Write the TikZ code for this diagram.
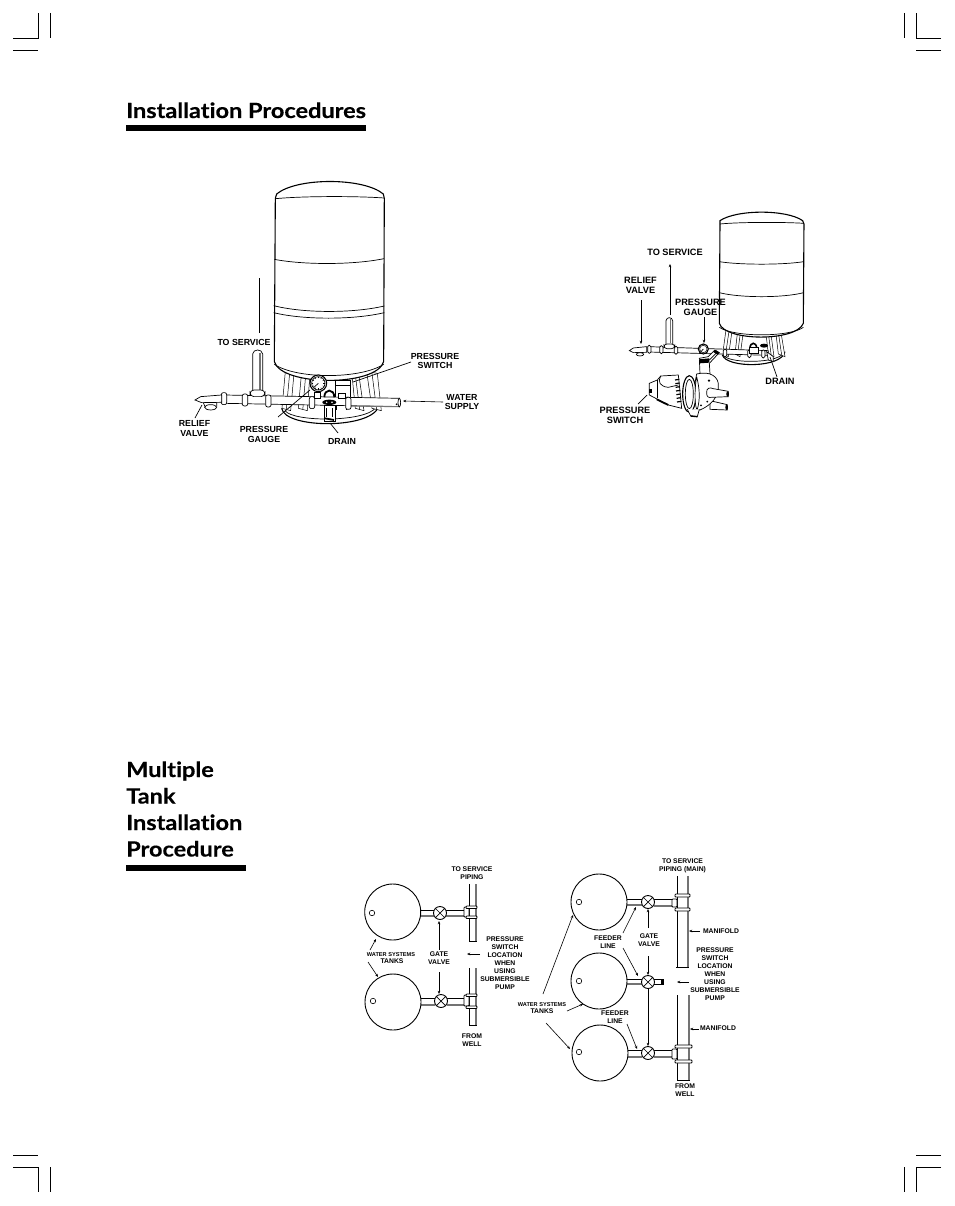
\documentclass[tikz,border=0pt]{standalone}
\usepackage{fontspec}
\setmainfont{Liberation Sans}
\newfontfamily\headfont[Ligatures=NoCommon,FakeStretch=1.12,BoldFeatures={FakeBold=0.35,FakeStretch=1.12}]{Lato}
\usetikzlibrary{arrows.meta}
\tikzset{
  crop/.style={line width=0.8pt,black},
  headbar/.style={fill=black,draw=none},
  headtext/.style={anchor=base west,inner sep=0pt,font=\headfont\bfseries\fontsize{21}{21}\selectfont},
  lblA/.style={inner sep=0pt,align=center,font=\bfseries\fontsize{8.8}{9.6}\selectfont},
  lblB/.style={inner sep=0pt,align=center,font=\bfseries\fontsize{6.8}{8}\selectfont},
  lblC/.style={inner sep=0pt,align=center,font=\bfseries\fontsize{5.6}{7}\selectfont},
  lblD/.style={inner sep=0pt,align=center,font=\bfseries\fontsize{9.2}{9.8}\selectfont},
  lead/.style={line width=0.6pt,-{Stealth[length=3.2pt,width=2.6pt]}},
  plain/.style={line width=0.7pt,black},
  thin2/.style={line width=0.5pt,black},
  heavy/.style={line width=1.1pt,black},
  tankc/.style={circle,draw,line width=0.9pt,minimum size=56pt,inner sep=0pt,fill=white},
  dot/.style={circle,draw,line width=0.6pt,minimum size=5.5pt,inner sep=0pt,fill=white},
  valve/.style={circle,draw,line width=0.9pt,minimum size=13pt,inner sep=0pt,fill=white},
  band/.style={draw,line width=0.8pt,fill=white,rounded corners=0.8pt},
  shade/.style={line width=1.1pt,black!55},
}
\newcommand{\gatevalve}[2]{\node[valve] (#1) at (#2) {};\draw[plain] (#1.45)--(#1.225) (#1.135)--(#1.315);}
\newcommand{\hpipe}[4]{\draw[plain] (#1,#3)--(#2,#3);\draw[shade] (#1,#4)--(#2,#4);}
\newcommand{\manifold}[4]{\draw[plain,fill=white] (#1,#3)--(#1,#4)--(#2,#4)--(#2,#3);\draw[shade] (#2,#3)--(#2,#4);}
\begin{document}
\begin{tikzpicture}[x=1pt,y=-1pt]
\useasboundingbox (0,0) rectangle (954,1206);
\fill[white] (0,0) rectangle (954,1206);
% crop marks
\draw[crop] (13,38)--(38,38)--(38,13) (50,13)--(50,38) (13,50)--(38,50);
\draw[crop] (941,38)--(916,38)--(916,13) (904,13)--(904,38) (941,50)--(916,50);
\draw[crop] (13,1167)--(38,1167)--(38,1192) (50,1167)--(50,1192) (13,1155)--(38,1155);
\draw[crop] (941,1167)--(916,1167)--(916,1192) (904,1167)--(904,1192) (941,1155)--(916,1155);
% headings
\node[headtext] (h1) at (126,118) {Installation Procedures};
\fill[headbar] (126,125) rectangle (366,131);
\node[headtext] (h2) at (126,777) {Multiple};
\node[headtext] (h3) at (126,803.5) {Tank};
\node[headtext] (h4) at (126,830) {Installation};
\node[headtext] (h5) at (126,856.5) {Procedure};
\fill[headbar] (126,865) rectangle (246,871);

%% ===== large tank (coordinates of a 3x crop at 170,170)
\begin{scope}[xshift=170pt,yshift=-170pt,x=0.3333pt,y=-0.3333pt]
  % base
  \draw[heavy,fill=white] (335,715) .. controls (345,778) and (615,778) .. (627,705);
  \draw[plain] (345,722) .. controls (370,757) and (590,757) .. (618,712);
  % legs
  \foreach \a/\b/\c/\d in {346/336/372/362, 395/385/420/412, 545/556/566/582, 590/606/622/634}{
    \draw[thin2,fill=white] (\a,605)--(\b,715)--(\d,722)--(\c,610)--cycle;
    \draw[thin2] ({(\a+\c)/2},610)--({(\b+\d)/2},718);
  }
  \draw[thin2] (500,640)--(500,720) (530,640)--(530,720);
  % tank
  \draw[heavy,fill=white] (320,72) .. controls (380,22) and (580,22) .. (640,72)
     -- (643,85) -- (641,575) .. controls (620,650) and (335,650) .. (313,575) -- (316,85) -- cycle;
  \draw[plain] (317,86) .. controls (400,78) and (560,78) .. (642,84);
  \draw[plain] (313,268) .. controls (400,285) and (550,285) .. (642,266);
  \draw[plain] (311,407) .. controls (400,430) and (550,430) .. (643,408);
  \draw[plain] (311,428) .. controls (400,450) and (550,450) .. (643,428);
  \draw[plain] (313,583) .. controls (380,628) and (570,628) .. (641,583);
  % riser
  \draw[plain,fill=white] (248,665)--(248,552) .. controls (250,536) and (276,536) .. (278,552) -- (278,665);
  \draw[shade] (270,548)--(270,660);
  % switch box
  \draw[plain,fill=white] (495,630) rectangle (540,682);
  \draw[plain] (495,645)--(540,645);
  % pipe
  \draw[plain,fill=white] (160,675)--(688,685)--(686,710)--(160,700)--cycle;
  \draw[shade] (540,708)--(686,710);
  \draw[plain,fill=white] (688,698) ellipse (4 and 13);
  \fill[black] (680,703) circle (3);
  % couplings
  \foreach \x/\y in {162/686, 225/690, 295/693, 426/698, 535/700}{
    \draw[plain,fill=white,rounded corners=2pt] (\x-8,\y-18) rectangle (\x+8,\y+18);
  }
  \draw[plain,fill=white,rounded corners=4pt] (240,660) rectangle (285,680);
  % relief valve
  \draw[plain,fill=white] (75,690) -- (92,680) -- (155,675) -- (155,697) -- (95,698) -- cycle;
  \draw[plain,fill=white] (122,712) ellipse (18 and 8);
  \draw[plain] (100,698) -- (105,710) (140,697)--(140,710);
  % gauge
  \draw[heavy,fill=white] (445,640) circle (25);
  \draw[plain] (445,640) circle (20);
  \draw[plain] (445,640)--(432,652);
  \foreach \an in {0,30,...,330}{\draw[thin2] (445,640) ++(\an:15) -- ++(\an:4);}
  % fittings and drain
  \draw[line width=1.8pt] (463,682) .. controls (463,655) and (493,655) .. (493,682);
  \draw[plain,fill=white] (432,668) rectangle (450,684);
  \draw[plain,fill=white] (505,670) rectangle (525,686);
  \draw[plain,fill=white] (462,705) -- (462,755) -- (495,755) -- (495,705) -- cycle;
  \fill[black] (478,697) ellipse (21 and 8);
  \fill[white] (470,697) circle (2.5) (486,697) circle (2.5);
  \draw[line width=1.8pt] (464,745) -- (492,750);
  \draw[plain] (470,715)--(470,740) (487,715)--(487,740);
\end{scope}
\node[lblA] (ts1) at (244,342) {TO SERVICE};
\node[lblA] (ps1) at (435,361) {PRESSURE\\SWITCH};
\node[lblA] (ws1) at (462,402) {WATER\\SUPPLY};
\node[lblA] (rv1) at (194.5,428.5) {RELIEF\\VALVE};
\node[lblA] (pg1) at (264,434.5) {PRESSURE\\GAUGE};
\node[lblA] (dr1) at (342,441.5) {DRAIN};
\coordinate (a1s) at (259,333); \coordinate (a1e) at (259,278);
\coordinate (a2s) at (411,362); \coordinate (a2e) at (353,382);
\coordinate (a3s) at (443,402); \coordinate (a3e) at (403,401);
\coordinate (a4s) at (195,418); \coordinate (a4e) at (202,405);
\coordinate (a5s) at (278,417); \coordinate (a5e) at (310,390);
\coordinate (a6s) at (338,433); \coordinate (a6e) at (330,423);
\draw[plain] (a1s)--(a1e);
\draw[plain] (a2s)--(a2e);
\draw[lead] (a3s)--(a3e);
\draw[plain] (a4s)--(a4e);
\draw[plain] (a5s)--(a5e);
\draw[plain] (a6s)--(a6e);

%% ===== small tank (3x crop at 590,200)
\begin{scope}[xshift=590pt,yshift=-200pt,x=0.3333pt,y=-0.3333pt]
  % base
  \draw[heavy,fill=white] (397,465) .. controls (410,505) and (575,505) .. (585,455);
  \draw[plain] (405,470) .. controls (430,490) and (555,490) .. (578,462);
  \foreach \a/\b/\c/\d in {410/398/428/415, 445/435/462/450, 525/535/540/552, 555/565/570/585}{
    \draw[thin2,fill=white] (\a,375)--(\b,462)--(\d,470)--(\c,380)--cycle;
    \draw[thin2] ({(\a+\c)/2},380)--({(\b+\d)/2},465);
  }
  % tank
  \draw[heavy,fill=white] (390,62) .. controls (440,28) and (590,28) .. (638,62)
    -- (642,72) -- (640,370) .. controls (620,425) and (405,425) .. (388,370) -- (390,72) -- cycle;
  \draw[plain] (390,72) .. controls (450,66) and (580,66) .. (642,70);
  \draw[plain] (388,185) .. controls (450,195) and (580,195) .. (641,185);
  \draw[plain] (388,278) .. controls (450,294) and (580,294) .. (641,278);
  \draw[plain] (388,382) .. controls (430,412) and (600,412) .. (640,382);
  % riser
  \draw[plain,fill=white] (228,432)--(228,362) .. controls (230,350) and (246,350) .. (248,362) -- (248,432);
  \draw[shade] (242,358)--(242,430);
  % pipe
  \draw[plain,fill=white] (175,440)--(535,452)--(535,466)--(175,456)--cycle;
  \foreach \x/\y in {178/448, 214/449, 258/451, 405/459, 478/461, 520/462}{
    \draw[plain,fill=white,rounded corners=1.5pt] (\x-5,\y-12) rectangle (\x+5,\y+12);
  }
  \draw[plain,fill=white,rounded corners=3pt] (222,432) rectangle (254,446);
  % relief
  \draw[plain,fill=white] (118,452)--(130,444)--(170,440)--(170,457)--(130,458)--cycle;
  \draw[plain,fill=white] (150,463) ellipse (11 and 5);
  % gauge
  \draw[heavy,fill=white] (340,447) circle (15);
  \draw[thin2] (340,447) circle (11);
  \draw[plain] (340,447)--(333,455);
  % fittings
  \draw[line width=1.6pt] (480,445) .. controls (480,425) and (500,425) .. (500,445);
  \draw[plain,fill=white] (478,442) rectangle (505,460);
  \fill[black] (522,437) ellipse (12 and 6);
  \draw[plain,fill=white] (530,455)--(550,470)--(550,485)--(535,480)--cycle;
  % connection to pump
  \draw[plain,fill=white] (328,475)--(330,522)--(360,522)--(358,490)--(388,458)--(375,450)--(355,470)--cycle;
  \fill[black] (328,478) -- (358,475) -- (358,488) -- (330,490) -- cycle;
  \draw[plain] (358,480)--(380,458);
  \fill[black] (375,450)--(388,458)--(382,464)--(370,456)--cycle;
\end{scope}
%% pump (3x crop at 600,330)
\begin{scope}[xshift=600pt,yshift=-330pt,x=0.3333pt,y=-0.3333pt]
  % motor
  \draw[plain,fill=white] (148,160)--(172,150)--(182,138)--(235,135)--(245,235)--(205,225)--(148,195)--cycle;
  \draw[plain] (172,150)--(172,205);
  \draw[plain] (182,138) .. controls (172,155) and (180,170) .. (205,172) -- (235,165);
  \fill[black] (146,176) rectangle (155,190);
  \draw[line width=1.8pt] (170,208)--(205,225);
  \foreach \t in {0,1,...,6}{\draw[line width=1.2pt] (225+\t*1,{150+\t*11})--(238+\t*1,{148+\t*11});}
  % lower outlet
  \draw[plain,fill=white] (330,212)--(382,224)--(382,240)--(330,238)--cycle;
  \fill[black] (380,232) ellipse (4 and 8);
  % volute
  \draw[plain,fill=white] (290,132) .. controls (330,122) and (358,140) .. (355,170)
     .. controls (355,200) and (335,225) .. (300,240) -- (270,240) -- cycle;
  \draw[heavy,fill=white] (268,192) ellipse (20 and 55);
  \draw[plain] (268,192) ellipse (12 and 44);
  \draw[plain,fill=white] (290,140) .. controls (300,180) and (300,210) .. (292,238) .. controls (285,240) and (282,180) .. (290,140);
  % upper outlet
  \draw[plain,fill=white] (320,190) .. controls (318,172) and (330,172) .. (340,176) -- (385,184) -- (385,200) -- (335,202) .. controls (325,204) and (320,200) .. (320,190);
  \fill[black] (383,192) ellipse (4 and 8);
  \fill[black] (327,152) circle (4) (322,215) circle (3) (303,226) circle (3);
  % foot
  \draw[plain,fill=white] (262,238)--(272,258)--(292,260)--(298,238);
  \draw[line width=1.4pt] (272,258)--(292,260);
\end{scope}
\node[lblD] (ts2) at (675,252.5) {TO SERVICE};
\node[lblD] (rv2) at (640.5,285) {RELIEF\\VALVE};
\node[lblD] (pg2) at (700.5,307) {PRESSURE\\GAUGE};
\node[lblD] (dr2) at (780,381.5) {DRAIN};
\node[lblD] (ps2) at (625,415.5) {PRESSURE\\SWITCH};
\coordinate (b1s) at (670,315); \coordinate (b1e) at (670,264);
\coordinate (b2s) at (641,300); \coordinate (b2e) at (641,344);
\coordinate (b3s) at (704,317); \coordinate (b3e) at (704,343);
\coordinate (b4s) at (777,377); \coordinate (b4e) at (770,357);
\coordinate (b5s) at (638,404); \coordinate (b5e) at (647,395);
\draw[lead] (b1s)--(b1e);
\draw[lead] (b2s)--(b2e);
\draw[lead] (b3s)--(b3e);
\draw[plain] (b4s)--(b4e);
\draw[plain] (b5s)--(b5e);

%% ===== two-tank layout
\hpipe{420}{434}{910}{916}
\hpipe{446}{464}{910}{916}
\hpipe{420}{435}{998}{1005}
\hpipe{447}{464}{998}{1005}
\node[tankc] (t1) at (392.7,912) {};
\node[dot] (d1) at (372,913) {};
\node[tankc] (t2) at (393,1002) {};
\node[dot] (d2) at (373,1001) {};
\gatevalve{v1}{440,913}
\gatevalve{v2}{441,1001}
\manifold{469}{476}{884}{941}
\manifold{469}{476}{968}{1025}
\draw[band] (464,907) rectangle (469,917);
\draw[band] (464,995) rectangle (469,1006);
\draw[band] (466,906) rectangle (477,908.5);
\draw[band] (466,916) rectangle (477,918.5);
\draw[band] (466,994) rectangle (477,996.5);
\draw[band] (466,1006) rectangle (477,1008.5);
\node[lblB] (l1) at (472,873) {TO SERVICE\\PIPING};
\node[lblC] (l2a) at (391,954.5) {WATER SYSTEMS};
\node[lblB] (l2b) at (392,961) {TANKS};
\node[lblB] (l3) at (439,958) {GATE\\VALVE};
\node[lblB] (l4) at (505,963.5) {PRESSURE\\SWITCH\\LOCATION\\WHEN\\USING\\SUBMERSIBLE\\PUMP};
\node[lblB] (l5) at (472,1040) {FROM\\WELL};
\coordinate (c1s) at (370,950); \coordinate (c1e) at (376,939);
\coordinate (c2s) at (368,962); \coordinate (c2e) at (378,977);
\coordinate (c3s) at (439,950); \coordinate (c3e) at (439,921);
\coordinate (c4s) at (439,972); \coordinate (c4e) at (439,994);
\coordinate (c5s) at (480,954); \coordinate (c5e) at (467,954);
\foreach \u in {1,...,5}{\draw[lead] (c\u s)--(c\u e);}

%% ===== three-tank layout
\hpipe{626}{642}{899}{905}
\hpipe{654}{673}{899}{906}
\hpipe{626}{642}{979}{984}
\hpipe{626}{642}{1050}{1057}
\hpipe{654}{673}{1050}{1057}
\node[tankc] (t3) at (599,902) {};
\node[dot] (d3) at (579,902) {};
\node[tankc] (t4) at (599,981) {};
\node[dot] (d4) at (579,981) {};
\node[tankc] (t5) at (600,1053) {};
\node[dot] (d5) at (579,1052) {};
\gatevalve{v3}{648,902}
\gatevalve{v4}{648,982}
\gatevalve{v5}{648,1053}
\draw[plain] (654,979)--(663,979)--(663,984)--(654,984);
\draw[line width=1.2pt] (662,979)--(662,984);
\manifold{677}{688}{876}{967}
\manifold{677}{689}{995}{1080}
\draw[plain] (676,967)--(688,967);
\draw[band] (672,899) rectangle (677,907);
\draw[band] (672,1049) rectangle (677,1059);
\draw[band] (675,894) rectangle (690,897);
\draw[band] (675,908) rectangle (690,911);
\draw[band] (675,1045) rectangle (692,1048);
\draw[band] (675,1060) rectangle (692,1063);
\node[lblB] (m1) at (682.5,866) {TO SERVICE\\PIPING (MAIN)};
\node[lblB] (m2) at (721,931) {MANIFOLD};
\node[lblB] (m3) at (649,940) {GATE\\VALVE};
\node[lblB] (m4) at (608,942.5) {FEEDER\\LINE};
\node[lblB] (m5) at (615,1017.5) {FEEDER\\LINE};
\node[lblB] (m6) at (715,974.5) {PRESSURE\\SWITCH\\LOCATION\\WHEN\\USING\\SUBMERSIBLE\\PUMP};
\node[lblB] (m7) at (718,1028.5) {MANIFOLD};
\node[lblB] (m8) at (685,1090) {FROM\\WELL};
\node[lblC] (m9a) at (542,1005) {WATER SYSTEMS};
\node[lblB] (m9b) at (542,1011.5) {TANKS};
\coordinate (e1s) at (543,994);  \coordinate (e1e) at (573,915);
\coordinate (e2s) at (567,1011); \coordinate (e2e) at (583,1004);
\coordinate (e3s) at (546,1023); \coordinate (e3e) at (570,1049);
\coordinate (e4s) at (623,933);  \coordinate (e4e) at (636,907);
\coordinate (e5s) at (623,948);  \coordinate (e5e) at (638,976);
\coordinate (e6s) at (627,1024); \coordinate (e6e) at (637,1049);
\coordinate (e7s) at (648,928);  \coordinate (e7e) at (648,909);
\coordinate (e8s) at (648,956);  \coordinate (e8e) at (648,975);
\coordinate (e9s) at (648,989);  \coordinate (e9e) at (648,1046);
\coordinate (e10s) at (689,982); \coordinate (e10e) at (677,982);
\coordinate (e11s) at (700,931); \coordinate (e11e) at (689,931);
\coordinate (e12s) at (699,1029); \coordinate (e12e) at (690,1029);
\foreach \u in {1,...,12}{\draw[lead] (e\u s)--(e\u e);}
\end{tikzpicture}
\end{document}
